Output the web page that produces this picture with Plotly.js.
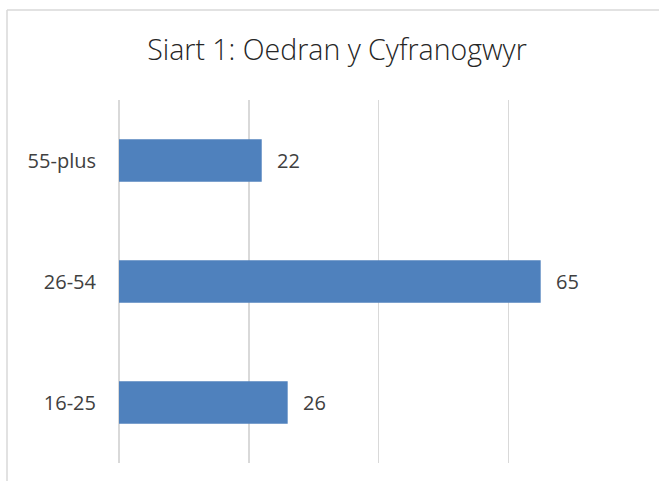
<!DOCTYPE html>
<html>
<head>
<meta charset="utf-8">
<script src="https://cdn.plot.ly/plotly-3.0.1.min.js"></script>
<style>html,body{margin:0;padding:0;background:#fff;}#chart{width:659px;height:481px;}</style>
</head>
<body>
<div id="chart"></div>
<script>
var categories = ["16-25", "26-54", "55-plus"];
var values = [26, 65, 22];
var chartTitle = "Siart 1: Oedran y Cyfranogwyr";

var fontFam = "'Open Sans', 'Noto Sans', sans-serif";
var textColor = "#404040";

var trace = {
  type: "bar",
  orientation: "h",
  y: categories,
  x: values,
  width: 0.35,
  marker: {color: "#4f81bd"},
  hoverinfo: "none"
};

var annotations = categories.map(function (c, i) {
  return {
    x: values[i], y: c, xref: "x", yref: "y",
    text: String(values[i]), showarrow: false,
    xanchor: "left", xshift: 13,
    font: {family: fontFam, size: 20, color: textColor}
  };
});

var layout = {
  width: 659, height: 481,
  margin: {l: 119, r: 21, t: 100, b: 18, pad: 0},
  paper_bgcolor: "#ffffff", plot_bgcolor: "#ffffff",
  showlegend: false,
  title: {
    text: chartTitle,
    font: {family: fontFam, size: 28.5, color: "#262626", weight: 300},
    x: 337 / 659, xanchor: "center", xref: "container",
    y: 0.895, yanchor: "middle", yref: "container"
  },
  xaxis: {
    range: [0, 80], dtick: 20, showticklabels: false,
    showgrid: true, gridcolor: "#d9d9d9", gridwidth: 1.5,
    zeroline: true, zerolinecolor: "#d9d9d9", zerolinewidth: 1.5,
    showline: false, fixedrange: true
  },
  yaxis: {
    type: "category", categoryorder: "array", categoryarray: categories,
    showgrid: false, zeroline: false, showline: false,
    ticks: "", ticklabelstandoff: 22,
    tickfont: {family: fontFam, size: 20, color: textColor},
    fixedrange: true
  },
  annotations: annotations,
  shapes: [
    {type: "line", xref: "paper", yref: "paper", x0: (7 - 119) / 519, x1: 1.2, y0: 1 + 90 / 363, y1: 1 + 90 / 363,
     line: {color: "#d9d9d9", width: 1.5}},
    {type: "line", xref: "paper", yref: "paper", x0: (7 - 119) / 519, x1: (7 - 119) / 519, y0: 1 + 90 / 363, y1: -0.2,
     line: {color: "#d9d9d9", width: 1.5}}
  ]
};

Plotly.newPlot("chart", [trace], layout, {displayModeBar: false, staticPlot: true});
</script>
</body>
</html>
